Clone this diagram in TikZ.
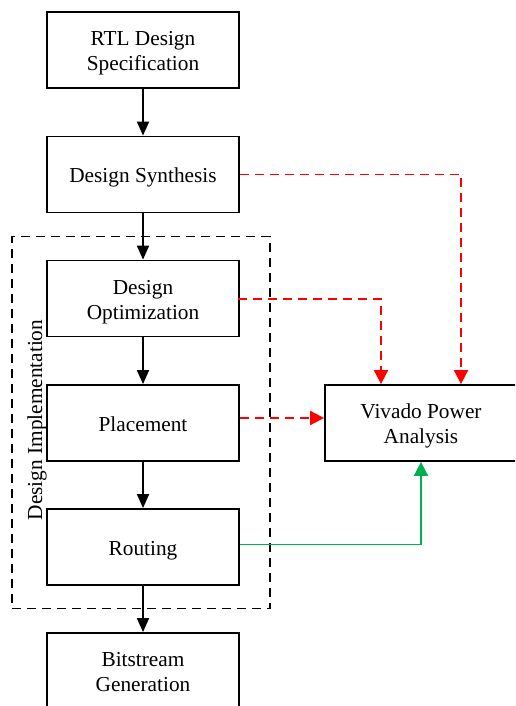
\documentclass[tikz,border=0pt]{standalone}
\usepackage{fontspec}
\setmainfont{Liberation Serif}
\usetikzlibrary{arrows.meta,positioning}
\definecolor{myred}{RGB}{255,0,0}
\definecolor{mygreen}{RGB}{0,176,80}
\newcommand\boxtext[1]{\raisebox{-3pt}[\height][\depth]{\begin{tabular}{@{}c@{}}#1\end{tabular}}}
\begin{document}
\begin{tikzpicture}[x=1pt,y=-1pt,
  stepbox/.style={draw,line width=1.8pt,minimum width=192pt,minimum height=76pt,inner sep=0pt,
    font=\fontsize{21.3}{25}\selectfont},
  flow/.style={line width=1.8pt,-{Triangle[length=14pt,width=12pt]}},
  reddash/.style={line width=1.8pt,myred,dash pattern=on 9pt off 6pt,-{Triangle[length=14pt,width=14pt]}},
  greenline/.style={line width=1.8pt,mygreen,-{Triangle[length=14pt,width=14pt]}},
  groupbox/.style={draw,line width=1.8pt,dash pattern=on 9pt off 6pt}
]
\useasboundingbox (0,0) rectangle (515,706);
\clip (0,0) rectangle (515,706);
\node[stepbox] (rtl) at (143,50) {\boxtext{RTL Design\\Specification}};
\node[stepbox] (syn) at (143,174.5) {\boxtext{Design Synthesis}};
\node[stepbox] (opt) at (143,298.5) {\boxtext{Design\\Optimization}};
\node[stepbox] (pla) at (143,423) {\boxtext{Placement}};
\node[stepbox] (rou) at (143,547) {\boxtext{Routing}};
\node[stepbox] (bit) at (143,671) {\boxtext{Bitstream\\Generation}};
\node[stepbox] (viv) at (421,423) {\boxtext{Vivado Power\\Analysis}};
\node[groupbox,minimum width=258pt,minimum height=372pt,inner sep=0pt] (grp) at (141,422.5) {};
\node[rotate=90,font=\fontsize{21.3}{25}\selectfont,inner sep=0pt] (lbl) at (37,420) {Design Implementation};
\draw[flow] (rtl) -- (syn);
\draw[flow] (syn) -- (opt);
\draw[flow] (opt) -- (pla);
\draw[flow] (pla) -- (rou);
\draw[flow] (rou) -- (bit);
\coordinate (c1) at (461,174.5);
\coordinate (c2) at (381,299);
\draw[reddash] (syn.east) -- (c1) -- (c1 |- viv.north);
\draw[reddash] ([xshift=-2pt,yshift=-0.5pt]opt.east) -- (c2) -- (c2 |- viv.north);
\draw[reddash] ([yshift=5pt]pla.east) -- ([yshift=5pt]viv.west);
\coordinate (c3) at (421,544.5);
\draw[greenline] (rou.east |- c3) -- (c3) -- (viv.south);
\end{tikzpicture}
\end{document}
